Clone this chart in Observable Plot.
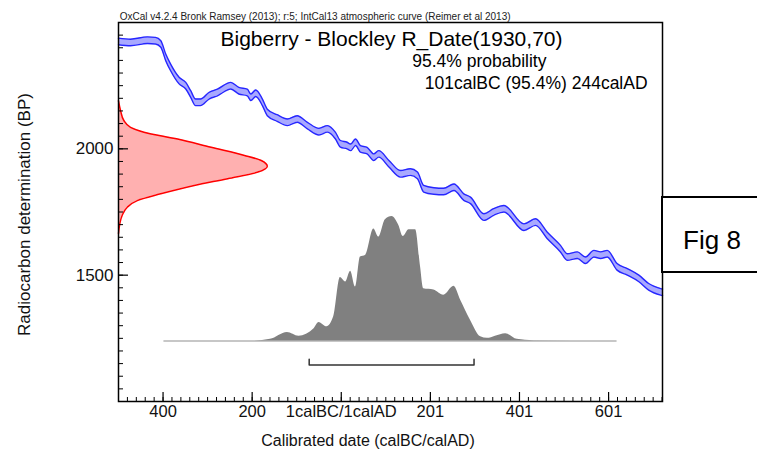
<!DOCTYPE html>
<html>
<head>
<meta charset="utf-8">
<script src="https://cdn.jsdelivr.net/npm/d3@7"></script>
<script src="https://cdn.jsdelivr.net/npm/@observablehq/plot@0.6"></script>
<style>
html, body { margin: 0; padding: 0; background: #fff; overflow: hidden; }
#wrap { position: relative; width: 757px; height: 457px; }
</style>
</head>
<body>
<div id="wrap"></div>
<script>
// ---- Calibration curve (IntCal13): calendar year (negative = BC) and BP
const curveYear = [-500,-473,-435,-417,-405,-394,-383,-364,-349,-338,-327,-316,-297,-278,-248,-230,-211,-203,-192,-177,-166,-144,-121,-99,-76,-50,-31,-13,-2,13,21,32,43,58,73,84,107,133,155,171,185,208,230,253,275,290,320,342,365,410,436,462,492,507,530,548,567,582,597,619,642,668,690,717,721];
const curveBP = [2425,2421,2430,2428,2415,2362,2322,2270,2250,2217,2184,2184,2210,2223,2250,2230,2223,2204,2220,2184,2144,2122,2105,2118,2092,2068,2079,2052,2020,2013,2006,2026,2000,1993,1967,1980,1941,1901,1908,1895,1842,1833,1831,1848,1809,1796,1730,1750,1763,1690,1710,1658,1605,1572,1579,1559,1585,1579,1585,1533,1513,1487,1454,1434,1432];
const curveSigma = 13;

// ---- Radiocarbon date R_Date(1930,70): BP and relative probability
const dateBP = [1665,1704,1737,1769,1795,1822,1855,1882,1908,1931,1954,1974,2006,2039,2066,2085,2112,2151,2190];
const dateProb = [0,0.009,0.025,0.059,0.126,0.284,0.509,0.734,0.937,1.0,0.959,0.847,0.622,0.397,0.171,0.081,0.036,0.014,0];

// ---- Calibrated (posterior) distribution: year and relative probability
const postYear = [-398,-200,-159,-121,-95,-61,-50,-32,-17,-2,10,21,32,43,55,73,84,99,114,129,139,152,167,178,185,208,230,253,268,290,313,328,346,369,395,432,619];
const postProb = [0,0,0.014,0.07,0.04,0.10,0.15,0.115,0.195,0.51,0.475,0.56,0.435,0.675,0.69,0.90,0.835,0.975,1.0,0.93,0.84,0.895,0.895,0.595,0.42,0.41,0.368,0.44,0.328,0.168,0.035,0.022,0.04,0.06,0.014,0.002,0];

// ---- 95.4% range bracket (as drawn)
const rangeFrom = -72;
const rangeTo = 298;

// ---- Ticks
const xTicks = [-400, -200, 0, 200, 400, 600];
const xTickLabels = ["400", "200", "1calBC/1calAD", "201", "401", "601"];
const yTicks = [1500, 2000];
const yTickLabels = ["1500", "2000"];
const xMinor = d3.range(-480, 721, 20);
const yMinor = d3.range(1050, 2500, 50);

// ---- Texts
const header = "OxCal v4.2.4 Bronk Ramsey (2013); r:5; IntCal13 atmospheric curve (Reimer et al 2013)";
const title = "Bigberry - Blockley R_Date(1930,70)";
const probText = "95.4% probability";
const rangeText = "101calBC (95.4%) 244calAD";
const xLabel = "Calibrated date (calBC/calAD)";
const yLabel = "Radiocarbon determination (BP)";
const figLabel = "Fig 8";

// display constants
const xMin = -500, xMax = 721, yMin = 1000, yMax = 2500;
const redWidth = 334;     // years spanned by the peak of the R_Date curve
const postBase = 1239;    // BP level of posterior baseline
const postHeight = 493;   // BP height of posterior peak
const bracketY = 1144, bracketTop = 1167;

const curve = curveYear.map((year, i) => ({year, bp: curveBP[i]}));
const dated = dateBP.map((bp, i) => ({bp, p: dateProb[i]}));
const post = postYear.map((year, i) => ({year, p: postProb[i]}));

const W = 757, H = 457, mL = 118, mR = 95, mT = 22, mB = 56;
const innerW = W - mL - mR, innerH = H - mT - mB;
const font = "'Liberation Sans', Arial, Helvetica, sans-serif";

const chart = Plot.plot({
  width: W, height: H,
  marginLeft: mL, marginRight: mR, marginTop: mT, marginBottom: mB,
  x: {domain: [xMin, xMax]},
  y: {domain: [yMin, yMax]},
  style: {fontFamily: font, background: "#fff", color: "#111"},
  marks: [
    // R_Date distribution (red)
    Plot.areaX(dated, {y: "bp", x1: xMin, x2: d => xMin + d.p * redWidth, fill: "#ffb0b0", curve: "monotone-y"}),
    Plot.line(dated, {y: "bp", x: d => xMin + d.p * redWidth, stroke: "#ff0000", strokeWidth: 1.5, curve: "monotone-y"}),
    // Calibration curve band (blue)
    Plot.areaY(curve, {x: "year", y1: d => d.bp - curveSigma, y2: d => d.bp + curveSigma, fill: "#a9a9ff", curve: "monotone-x"}),
    Plot.line(curve, {x: "year", y: d => d.bp + curveSigma, stroke: "#2626ff", strokeWidth: 1.4, curve: "monotone-x"}),
    Plot.line(curve, {x: "year", y: d => d.bp - curveSigma, stroke: "#2626ff", strokeWidth: 1.4, curve: "monotone-x"}),
    // Posterior (grey)
    Plot.ruleY([postBase], {x1: postYear[0], x2: postYear[postYear.length - 1], stroke: "#b4b4b4", strokeWidth: 1.5}),
    Plot.areaY(post, {x: "year", y1: postBase, y2: d => postBase + d.p * postHeight, fill: "#808080", curve: "monotone-x"}),
    // 95.4% range bracket
    Plot.line([{x: rangeFrom, y: bracketTop}, {x: rangeFrom, y: bracketY}, {x: rangeTo, y: bracketY}, {x: rangeTo, y: bracketTop}],
      {x: "x", y: "y", stroke: "#333", strokeWidth: 1.5}),
    // Inward ticks
    Plot.tickX(xMinor, {x: d => d, insetTop: innerH - 4, stroke: "#000"}),
    Plot.tickX(xTicks, {x: d => d, insetTop: innerH - 9, stroke: "#000", strokeWidth: 1.2}),
    Plot.tickY(yMinor, {y: d => d, insetRight: innerW - 5, stroke: "#000"}),
    Plot.tickY(yTicks, {y: d => d, insetRight: innerW - 10, stroke: "#000", strokeWidth: 1.2}),
    // Axes labels
    Plot.axisX({ticks: xTicks, tickFormat: d => xTickLabels[xTicks.indexOf(d)], tickSize: 0, tickPadding: 4, fontSize: 16.5, label: null}),
    Plot.axisY({ticks: yTicks, tickFormat: d => yTickLabels[yTicks.indexOf(d)], tickSize: 0, tickPadding: 5, fontSize: 17, label: null}),
    Plot.text([xLabel], {text: d => d, frameAnchor: "bottom", textAnchor: "middle", lineAnchor: "middle", dx: -22.5, dy: 39, fontSize: 16, fill: "#111"}),
    Plot.text([yLabel], {text: d => d, frameAnchor: "left", textAnchor: "middle", lineAnchor: "middle", rotate: -90, dx: -94, dy: 2.5, fontSize: 17, fill: "#111"}),
    // Titles
    Plot.text([header], {text: d => d, frameAnchor: "top-left", textAnchor: "start", lineAnchor: "middle", dx: 1.3, dy: -6, fontSize: 10, fill: "#222"}),
    Plot.text([title], {text: d => d, frameAnchor: "top", textAnchor: "middle", lineAnchor: "middle", dx: 1, dy: 17, fontSize: 21, fill: "#000"}),
    Plot.text([probText], {text: d => d, frameAnchor: "top-left", textAnchor: "start", lineAnchor: "middle", dx: 293.7, dy: 38.5, fontSize: 17.5, fill: "#000"}),
    Plot.text([rangeText], {text: d => d, frameAnchor: "top-left", textAnchor: "start", lineAnchor: "middle", dx: 306.3, dy: 60.5, fontSize: 17.5, fill: "#000"}),
    // Frame
    Plot.frame({stroke: "#000", strokeWidth: 1.5})
  ]
});

document.getElementById("wrap").appendChild(chart);

// "Fig 8" box at the right margin
const svg = d3.select(chart);
svg.append("rect").attr("x", mL + innerW).attr("y", 197).attr("width", 120).attr("height", 75)
  .attr("fill", "#fff").attr("stroke", "#000").attr("stroke-width", 2);
svg.append("text").attr("x", 712).attr("y", 249).attr("text-anchor", "middle")
  .attr("font-family", font).attr("font-size", 26).attr("fill", "#000").text(figLabel);
</script>
</body>
</html>
